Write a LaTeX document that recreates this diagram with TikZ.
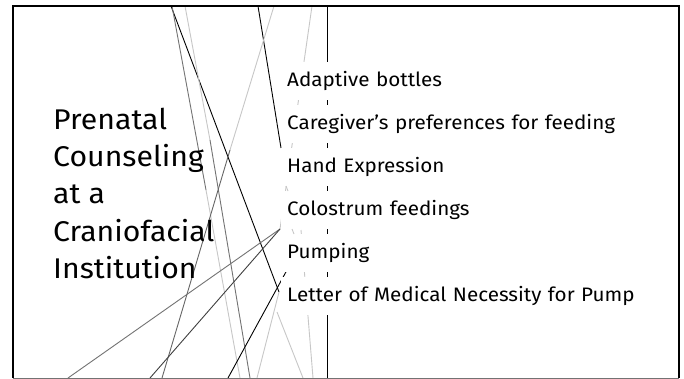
\documentclass[tikz,border=0pt]{standalone}
\usepackage{fontspec}
\setmainfont[FakeStretch=1.06]{Fira Sans}
\begin{document}
\begin{tikzpicture}[x=1pt,y=-1pt,
  darkline/.style={black,line width=0.9pt},
  midline/.style={black!55,line width=0.9pt},
  lightline/.style={black!22,line width=0.9pt},
  frameline/.style={black,line width=2.5pt},
  titletext/.style={anchor=base west,inner sep=0pt,font=\fontsize{28.5}{34}\selectfont},
  rowbox/.style={fill=white,anchor=north west,minimum height=38pt,text width=370pt,
    inner xsep=6pt,inner ysep=0pt,align=left,font=\fontsize{19.5}{23}\selectfont}]
\useasboundingbox (0,0) rectangle (684,379);
\fill[white] (0,0) rectangle (684,379);

% decorative lines
\coordinate (p1) at (279,292);
\coordinate (p2) at (280,229);
\draw[darkline] (171,6) -- (p1);
\draw[midline] (172,6) -- (206,190);
\draw[lightline] (206,190) -- (240,378);
\draw[lightline] (185,6) -- (210,140);
\draw[midline] (210,140) -- (250,378);
\draw[darkline] (258,6) -- (281,148);
\draw[lightline] (274,6) -- (230,150);
\draw[black!60,line width=0.9pt] (230,150) -- (162,378);
\draw[lightline] (312,6) -- (p2);
\draw[midline] (68,378) -- (p2);
\draw[black!75,line width=0.9pt] (150,378) -- (p2);
\draw[darkline] (228,378) -- (287,270);
\draw[lightline] (257,378) -- (p1);
\draw[lightline] (303,378) -- (277,312);
\draw[lightline] (313,378) -- (301,230);
\draw[black,line width=1pt] (327,6) -- (327,378);

% text rows on white bands
\node[rowbox] (r1) at (281,62)  {Adaptive bottles};
\node[rowbox] (r2) at (281,105) {Caregiver’s preferences for feeding};
\node[rowbox] (r3) at (281,148) {Hand Expression};
\node[rowbox] (r4) at (281,191) {Colostrum feedings};
\node[rowbox] (r5) at (281,234) {Pumping};
\node[rowbox] (r6) at (281,277) {Letter of Medical Necessity for Pump};

% small fragments visible in the gaps
\draw[lightline] (286,186) -- (288,191);
\draw[lightline] (292,229) -- (294,234);

% title
\node[titletext] (t1) at (53,130) {Prenatal};
\node[titletext] (t2) at (53,167) {Counseling};
\node[titletext] (t3) at (53,204) {at a};
\node[titletext] (t4) at (53,241) {Craniofacial};
\node[titletext] (t5) at (53,278) {Institution};

% slide frame
\draw[frameline] (13,378) -- (13,6) -- (679,6) -- (679,378);
\draw[black!55,line width=1pt] (13,378) -- (679,378);
\end{tikzpicture}
\end{document}
